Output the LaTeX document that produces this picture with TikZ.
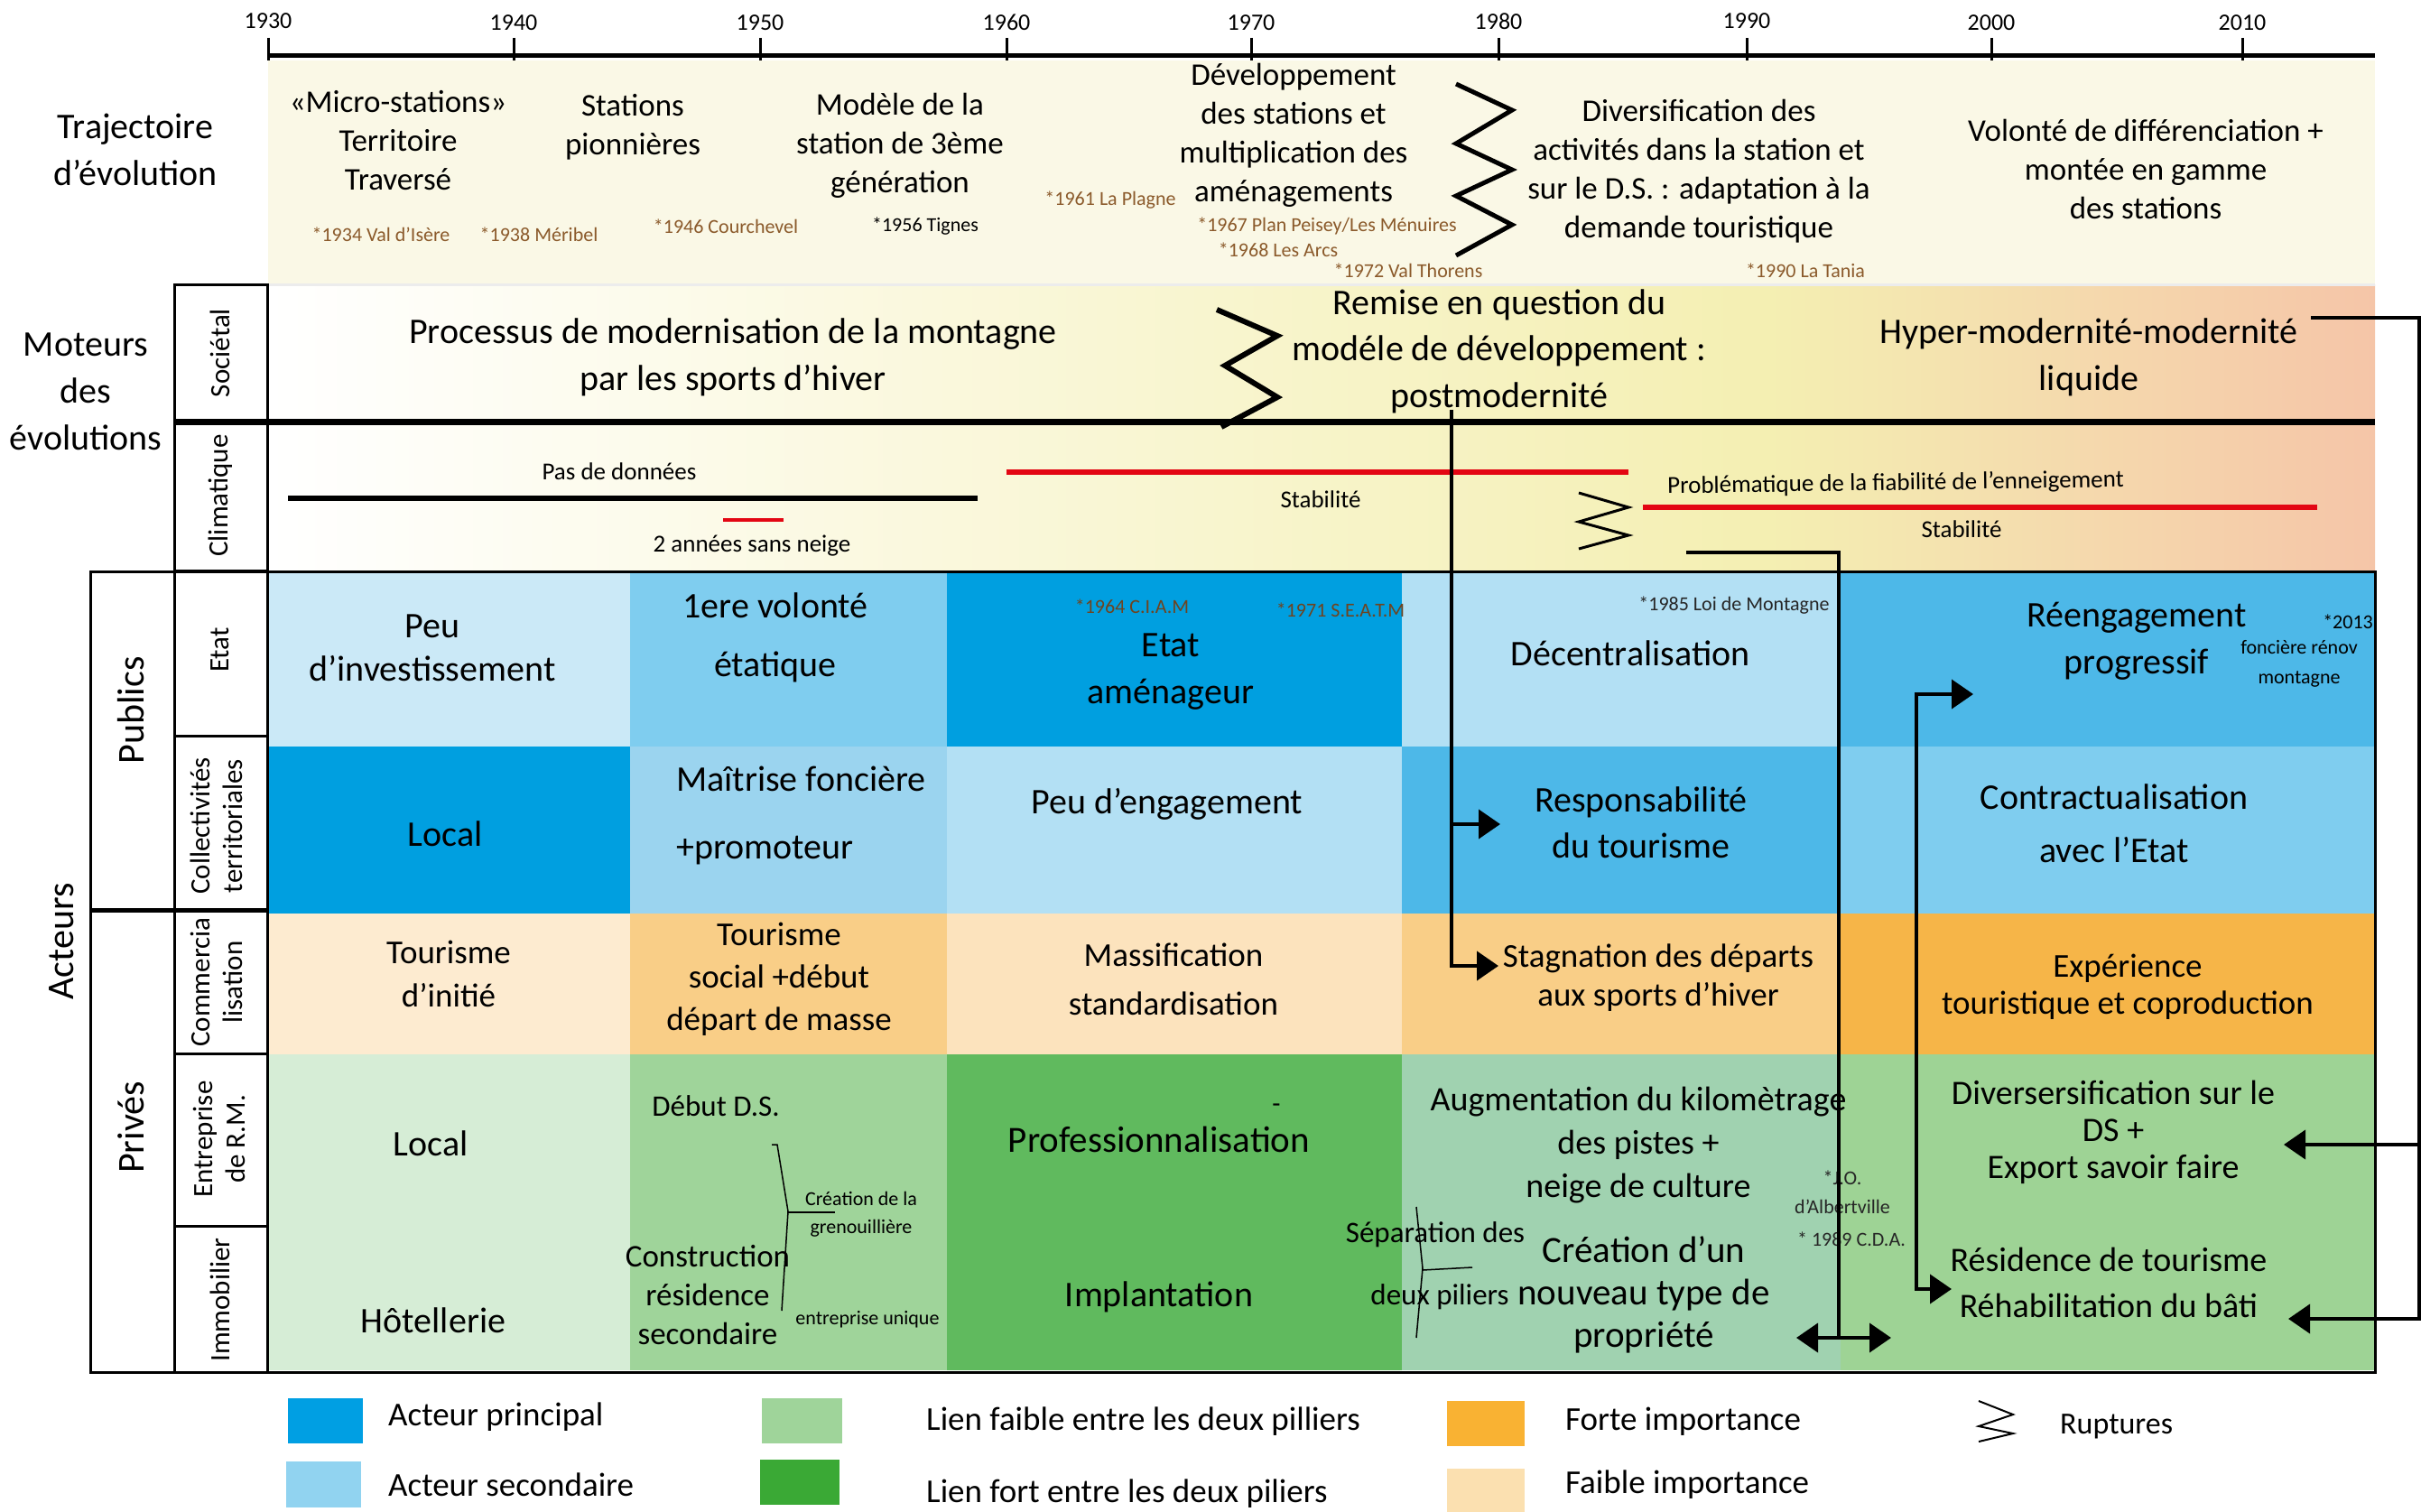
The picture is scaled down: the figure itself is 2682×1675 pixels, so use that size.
\documentclass[tikz,border=0pt]{standalone}
\usepackage{fontspec}
\setmainfont{Carlito}
\usetikzlibrary{arrows.meta}
\newcommand\fsz[2]{\fontsize{#1}{#2}\selectfont}
\definecolor{trajbg}{HTML}{FAF8E6}
\definecolor{motyel}{HTML}{F4EFB2}
\definecolor{motpeach}{HTML}{F5C5A8}
\definecolor{datebrown}{HTML}{8B5A2B}
\definecolor{darkbrown}{HTML}{6E4420}
\definecolor{bluemain}{HTML}{009FE0}
\definecolor{bluemid}{HTML}{4DB8E8}
\definecolor{bluesec}{HTML}{7FCDEF}
\definecolor{bluelight}{HTML}{B3E0F4}
\definecolor{bluepale}{HTML}{CBE9F7}
\definecolor{bluecoll}{HTML}{9BD4EF}
\definecolor{orstrong}{HTML}{F6B548}
\definecolor{ormid}{HTML}{F9CE87}
\definecolor{orlight}{HTML}{FCE3BD}
\definecolor{orpale}{HTML}{FDEBD0}
\definecolor{grpale}{HTML}{D6EDD6}
\definecolor{grweak}{HTML}{9FD49A}
\definecolor{grstrong}{HTML}{60BA5E}
\definecolor{grgray}{HTML}{A0D2B0}
\definecolor{grright}{HTML}{9ED395}
\definecolor{legblue}{HTML}{009FE3}
\definecolor{legbluesec}{HTML}{91D3F0}
\definecolor{leggreen}{HTML}{3AA935}
\definecolor{legorange}{HTML}{F9B233}
\definecolor{legorlight}{HTML}{FBE0B0}
\definecolor{rupred}{HTML}{E30613}
\tikzset{
  lbl/.style={inner sep=0pt, align=center},
  yr/.style={lbl, font=\fsz{26}{30}},
  hd/.style={lbl, font=\fsz{40}{52}},
  trj/.style={lbl, font=\fsz{35}{43}},
  dt/.style={lbl, font=\fsz{22}{26}, text=datebrown},
  note/.style={lbl, font=\fsz{22}{31}},
  soc/.style={lbl, font=\fsz{40}{51.5}},
  clim/.style={lbl, font=\fsz{27}{30}},
  vlab/.style={lbl, rotate=90, font=\fsz{31}{36}},
  grp/.style={lbl, rotate=90, font=\fsz{42}{46}},
  cell/.style={lbl, font=\fsz{40}{50}},
  leg/.style={inner sep=0pt, anchor=west, font=\fsz{37}{40}},
  frame/.style={line width=3pt},
  ticky/.style={line width=3pt},
  zig/.style={line width=5pt, line join=miter},
  conn/.style={line width=4pt, >={Triangle[length=24pt,width=32pt]}}
}
\begin{document}
\begin{tikzpicture}[x=1pt,y=-1pt]
\useasboundingbox (0,0) rectangle (2682,1675);
\fill[white] (0,0) rectangle (2682,1675);
\fill[trajbg] (297,67) rectangle (2631,315);
\shade[left color=white, right color=motyel] (297,315) rectangle (1960,632);
\shade[left color=motyel, right color=motpeach] (1960,315) rectangle (2631,632);
\draw[gray!15, line width=3pt] (297,315) -- (2631,315);

\fill[bluepale] (296,633) rectangle (698,827);
\fill[bluesec] (698,633) rectangle (1049,827);
\fill[bluemain] (1049,633) rectangle (1553,827);
\fill[bluelight] (1553,633) rectangle (2039,827);
\fill[bluemid] (2039,633) rectangle (2631,827);
\fill[bluemain] (296,827) rectangle (698,1012);
\fill[bluecoll] (698,827) rectangle (1049,1012);
\fill[bluelight] (1049,827) rectangle (1553,1012);
\fill[bluemid] (1553,827) rectangle (2039,1012);
\fill[bluesec] (2039,827) rectangle (2631,1012);
\fill[orpale] (296,1012) rectangle (698,1168);
\fill[ormid] (698,1012) rectangle (1049,1168);
\fill[orlight] (1049,1012) rectangle (1553,1168);
\fill[ormid] (1553,1012) rectangle (2039,1168);
\fill[orstrong] (2039,1012) rectangle (2631,1168);
\fill[grpale] (296,1168) rectangle (698,1518);
\fill[grweak] (698,1168) rectangle (1049,1518);
\fill[grstrong] (1049,1168) rectangle (1553,1518);
\fill[grgray] (1553,1168) rectangle (2039,1518);
\fill[grright] (2039,1168) rectangle (2631,1518);

\draw[line width=5pt] (297,62) -- (2631,62);
\draw[ticky] (297,42) -- (297,67);
\draw[ticky] (569,42) -- (569,67);
\draw[ticky] (842,42) -- (842,67);
\draw[ticky] (1115,42) -- (1115,67);
\draw[ticky] (1386,42) -- (1386,67);
\draw[ticky] (1660,42) -- (1660,67);
\draw[ticky] (1935,42) -- (1935,67);
\draw[ticky] (2206,42) -- (2206,67);
\draw[ticky] (2484,42) -- (2484,67);
\node[yr] (y1930) at (297,23) {1930};
\node[yr] (y1940) at (569,25) {1940};
\node[yr] (y1950) at (842,25) {1950};
\node[yr] (y1960) at (1115,25) {1960};
\node[yr] (y1970) at (1386,25) {1970};
\node[yr] (y1980) at (1660,24) {1980};
\node[yr] (y1990) at (1935,23) {1990};
\node[yr] (y2000) at (2206,25) {2000};
\node[yr] (y2010) at (2484,25) {2010};

\draw[frame] (193,315) rectangle (296,632);
\draw[line width=7pt] (193,467) -- (2631,467);
\draw[frame] (100,633) rectangle (2631,1520);
\draw[frame] (193,633) -- (193,1520);
\draw[frame] (296,633) -- (296,1520);
\draw[frame] (193,815) -- (296,815);
\draw[line width=5pt] (100,1008) -- (296,1008);
\draw[frame] (193,1167) -- (296,1167);
\draw[frame] (193,1358) -- (296,1358);

\node[hd] (traj) at (150,166) {Trajectoire\\d'évolution};
\node[hd] (mot) at (95,434) {Moteurs\\des\\évolutions};
\node[vlab] (lsoc) at (244,391) {Sociétal};
\node[vlab] (lclim) at (244,549) {Climatique};
\node[vlab] (letat) at (244,720) {Etat};
\node[vlab] (lcoll) at (240,915) {Collectivités\\territoriales};
\node[vlab] (lcom) at (240,1088) {Commercia\\lisation};
\node[vlab] (lent) at (243,1262) {Entreprise\\de R.M.};
\node[vlab] (limmo) at (244,1440) {Immobilier};
\node[grp] (pub) at (145,787) {Publics};
\node[grp] (priv) at (145,1249) {Privés};
\node[grp] (act) at (68,1043) {Acteurs};

\node[trj] (t1) at (441,156) {«Micro-stations»\\Territoire\\Traversé};
\node[trj] (t2) at (701,141) {Stations\\pionnières};
\node[trj] (t3) at (997,161) {Modèle de la\\station de 3ème\\génération};
\node[trj] (t4) at (1433,150) {Développement\\des stations et\\multiplication des\\aménagements};
\node[trj] (t5) at (1882,190) {Diversification des\\activités dans la station et\\sur le D.S. : adaptation à la\\demande touristique};
\node[trj] (t6) at (2377,187) {Volonté de différenciation +\\montée en gamme\\des stations};
\node[dt] (d1934) at (422,260) {*1934 Val d'Isère};
\node[dt] (d1938) at (597,260) {*1938 Méribel};
\node[dt] (d1946) at (804,251) {*1946 Courchevel};
\node[dt, text=black] (d1956) at (1025,251) {*1956 Tignes};
\node[dt] (d1961) at (1230,222) {*1961 La Plagne};
\node[dt] (d1967) at (1470,250) {*1967 Plan Peisey/Les Ménuires};
\node[dt] (d1968) at (1416,277) {*1968 Les Arcs};
\node[dt] (d1972) at (1560,300) {*1972 Val Thorens};
\node[dt] (d1990) at (2000,300) {*1990 La Tania};
\draw[zig] (1613,93) -- (1675,122) -- (1613,159) -- (1675,188) -- (1613,217) -- (1675,249) -- (1613,283);

\node[soc] (soc1) at (812,396) {Processus de modernisation de la montagne\\par les sports d'hiver};
\node[soc] (soc2) at (1661,389) {Remise en question du\\modéle de développement :\\postmodernité};
\node[soc] (soc3) at (2314,396) {Hyper-modernité-modernité\\liquide};
\draw[zig, line width=6pt] (1348,343) -- (1415,372) -- (1357,405) -- (1415,440) -- (1353,473);

\draw[line width=6pt] (319,552) -- (1083,552);
\draw[rupred, line width=4pt] (801,576) -- (868,576);
\draw[rupred, line width=6pt] (1115,523) -- (1804,523);
\draw[rupred, line width=6pt] (1820,562) -- (2567,562);
\draw[zig, line width=3pt] (1749,546) -- (1804,562) -- (1749,578) -- (1804,593) -- (1749,608);
\node[clim] (nodata) at (686,522) {Pas de données};
\node[clim] (nosnow) at (833,605) {2 années sans neige};
\node[clim] (stab1) at (1463,553) {Stabilité};
\node[clim, rotate=0.8] (fiab) at (2100,536) {Problématique de la fiabilité de l'enneigement};
\node[clim] (stab2) at (2173,586) {Stabilité};

\node[cell, font=\fsz{40}{48}] (e1) at (479,718) {Peu\\d'investissement};
\node[cell, font=\fsz{40}{65}] (e2) at (859,706) {1ere volonté\\étatique};
\node[cell, font=\fsz{40}{52}] (e3) at (1297,744) {Etat\\aménageur};
\node[cell] (e4) at (1806,724) {Décentralisation};
\node[cell, font=\fsz{40}{52}] (e5) at (2367,710) {Réengagement\\progressif};
\node[dt, text=darkbrown] (ciam) at (1254,672) {*1964 C.I.A.M};
\node[dt, text=darkbrown] (seatm) at (1485,676) {*1971 S.E.A.T.M};
\node[dt, text=black!85] (loi) at (1921,671) {*1985 Loi de Montagne};
\node[note] (n2013) at (2601,689) {*2013};
\node[note, font=\fsz{22}{33}] (renov) at (2547,735) {foncière rénov\\montagne};

\node[cell] (c1) at (493,924) {Local};
\node[cell, font=\fsz{40}{75}, align=left, anchor=west] (c2) at (749,903) {Maîtrise foncière\\+promoteur};
\node[cell] (c3) at (1293,891) {Peu d'engagement};
\node[cell, font=\fsz{40}{51}] (c4) at (1818,911) {Responsabilité\\du tourisme};
\node[cell, font=\fsz{40}{59}] (c5) at (2342,912) {Contractualisation\\avec l'Etat};

\node[cell, font=\fsz{37}{48}] (m1) at (497,1079) {Tourisme\\d'initié};
\node[cell, font=\fsz{37}{47}] (m2) at (863,1085) {Tourisme\\social +début\\départ de masse};
\node[cell, font=\fsz{37}{54}] (m3) at (1300,1085) {Massification\\standardisation};
\node[cell, font=\fsz{37}{43}] (m4) at (1837,1083) {Stagnation des départs\\aux sports d'hiver};
\node[cell, font=\fsz{37}{41}] (m5) at (2357,1093) {Expérience\\touristique et coproduction};

\node[cell] (p1a) at (477,1267) {Local};
\node[cell] (p1b) at (480,1463) {Hôtellerie};
\node[cell, font=\fsz{33}{40}] (p2a) at (793,1225) {Début D.S.};
\node[cell, font=\fsz{35}{43}] (p2b) at (784,1435) {Construction\\résidence\\secondaire};
\node[note] (gren) at (954,1345) {Création de la\\grenouillière};
\node[note] (uniq) at (961,1462) {entreprise unique};
\draw[line width=1.5pt] (855,1268) -- (861,1268) -- (873,1342) -- (866,1452);
\draw[line width=1.5pt] (873,1343) -- (925,1343);
\node[cell, font=\fsz{30}{34}] (dash) at (1414,1228) {-};
\node[cell, font=\fsz{41}{50}] (p3a) at (1284,1262) {Professionnalisation};
\node[cell] (p3b) at (1284,1437) {Implantation};
\node[cell, font=\fsz{38}{48}] (p4a) at (1815,1269) {Augmentation du kilomètrage\\des pistes +\\neige de culture};
\node[cell, font=\fsz{41}{47}] (p4b) at (1821,1434) {Création d'un\\nouveau type de\\propriété};
\node[cell, font=\fsz{33}{40}] (sep1) at (1590,1368) {Séparation des};
\node[cell, font=\fsz{33}{40}] (sep2) at (1595,1437) {deux piliers};
\draw[line width=1.5pt] (1569,1337) -- (1576,1405) -- (1569,1482);
\draw[line width=1.5pt] (1576,1407) -- (1631,1404);
\node[note, font=\fsz{22}{32}, text=black!85] (jo) at (2041,1321) {*J.O.\\d'Albertville};
\node[note, text=black!85] (cda) at (2051,1373) {* 1989 C.D.A.};
\node[cell, font=\fsz{38}{41}] (p5a) at (2341,1254) {Diversersification sur le\\DS +\\Export savoir faire};
\node[cell, font=\fsz{38}{51}] (p5b) at (2336,1421) {Résidence de tourisme\\Réhabilitation du bâti};

\coordinate (pmA) at (1608,454);
\coordinate (pmB) at (1608,913);
\coordinate (pmC) at (1662,913);
\coordinate (pmD) at (1608,1070);
\coordinate (pmE) at (1660,1070);
\draw[conn, ->] (pmA) -- (pmD) -- (pmE);
\draw[conn, ->] (pmB) -- (pmC);
\coordinate (stA) at (1868,612);
\coordinate (stB) at (2037,612);
\coordinate (stC) at (2037,1482);
\draw[conn] (stA) -- (stB) -- (stC);
\coordinate (dbA) at (1990,1482);
\coordinate (dbB) at (2095,1482);
\draw[conn, <->] (dbA) -- (dbB);
\coordinate (rgA) at (2162,1428);
\coordinate (rgB) at (2123,1428);
\coordinate (rgC) at (2123,769);
\coordinate (rgD) at (2186,769);
\draw[conn, <->] (rgA) -- (rgB) -- (rgC) -- (rgD);
\coordinate (hyA) at (2560,352);
\coordinate (hyB) at (2680,352);
\coordinate (hyC) at (2680,1461);
\coordinate (hyD) at (2535,1461);
\coordinate (hyE) at (2680,1268);
\coordinate (hyF) at (2530,1268);
\draw[conn, ->] (hyA) -- (hyB) -- (hyC) -- (hyD);
\draw[conn, ->] (hyE) -- (hyF);

\fill[legblue] (319,1549) rectangle (402,1599);
\fill[legbluesec] (317,1619) rectangle (400,1670);
\fill[grweak] (844,1549) rectangle (933,1599);
\fill[leggreen] (842,1617) rectangle (930,1667);
\fill[legorange] (1603,1552) rectangle (1689,1602);
\fill[legorlight] (1603,1627) rectangle (1689,1680);
\draw[line width=2pt] (2192,1552) -- (2230,1567) -- (2192,1580) -- (2230,1588) -- (2192,1597);
\node[leg] (lt1) at (430,1570) {Acteur principal};
\node[leg] (lt2) at (430,1645) {Acteur secondaire};
\node[leg] (lt3) at (1026,1575) {Lien faible entre les deux pilliers};
\node[leg] (lt4) at (1026,1655) {Lien fort entre les deux piliers};
\node[leg] (lt5) at (1734,1575) {Forte importance};
\node[leg] (lt6) at (1734,1645) {Faible importance};
\node[leg, font=\fsz{34}{38}] (lt7) at (2282,1580) {Ruptures};
\end{tikzpicture}
\end{document}
